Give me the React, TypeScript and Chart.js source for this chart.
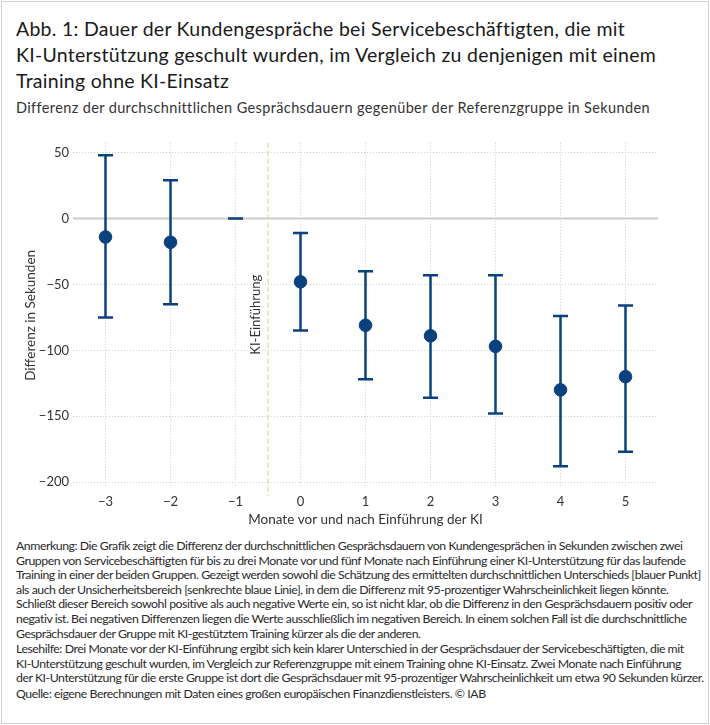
import { useEffect, useLayoutEffect, useRef } from "react"
import { Chart, registerables } from "chart.js"

Chart.register(...registerables)

// months relative to the introduction of the AI training
const months = [-3, -2, -1, 0, 1, 2, 3, 4, 5]
// point estimates (seconds)
const estimates = [-14, -18, 0, -48, -81, -89, -97, -130, -120]
// 95% confidence interval
const lower = [-75, -65, 0, -85, -122, -136, -148, -188, -177]
const upper = [48, 29, 0, -11, -40, -43, -43, -74, -66]
const yTicks = [50, 0, -50, -100, -150, -200]
const introductionAt = -0.5

const titleLines = [
  "Abb. 1: Dauer der Kundengespräche bei Servicebeschäftigten, die mit",
  "KI-Unterstützung geschult wurden, im Vergleich zu denjenigen mit einem",
  "Training ohne KI-Einsatz",
]
const subtitle = "Differenz der durchschnittlichen Gesprächsdauern gegenüber der Referenzgruppe in Sekunden"
const noteLines = [
  "Anmerkung: Die Grafik zeigt die Differenz der durchschnittlichen Gesprächsdauern von Kundengesprächen in Sekunden zwischen zwei",
  "Gruppen von Servicebeschäftigten für bis zu drei Monate vor und fünf Monate nach Einführung einer KI-Unterstützung für das laufende",
  "Training in einer der beiden Gruppen. Gezeigt werden sowohl die Schätzung des ermittelten durchschnittlichen Unterschieds [blauer Punkt]",
  "als auch der Unsicherheitsbereich [senkrechte blaue Linie], in dem die Differenz mit 95-prozentiger Wahrscheinlichkeit liegen könnte.",
  "Schließt dieser Bereich sowohl positive als auch negative Werte ein, so ist nicht klar, ob die Differenz in den Gesprächsdauern positiv oder",
  "negativ ist. Bei negativen Differenzen liegen die Werte ausschließlich im negativen Bereich. In einem solchen Fall ist die durchschnittliche",
  "Gesprächsdauer der Gruppe mit KI-gestütztem Training kürzer als die der anderen.",
]
const readingLines = [
  "Lesehilfe: Drei Monate vor der KI-Einführung ergibt sich kein klarer Unterschied in der Gesprächsdauer der Servicebeschäftigten, die mit",
  "KI-Unterstützung geschult wurden, im Vergleich zur Referenzgruppe mit einem Training ohne KI-Einsatz. Zwei Monate nach Einführung",
  "der KI-Unterstützung für die erste Gruppe ist dort die Gesprächsdauer mit 95-prozentiger Wahrscheinlichkeit um etwa 90 Sekunden kürzer.",
]
const sourceLines = ["Quelle: eigene Berechnungen mit Daten eines großen europäischen Finanzdienstleisters. © IAB"]

const FONT = "Lato, 'Noto Sans', sans-serif"
const BLUE = "#0a417f"

const minus = (v: number) => String(v).replace("-", "\u2212")

const errorBars = {
  id: "errorBars",
  beforeDatasetsDraw(chart: Chart) {
    const { ctx, scales, chartArea } = chart
    const x = scales.x
    const y = scales.y
    ctx.save()
    // zero line
    ctx.strokeStyle = "#cccccc"
    ctx.lineWidth = 2
    ctx.beginPath()
    ctx.moveTo(chartArea.left, y.getPixelForValue(0))
    ctx.lineTo(chartArea.right, y.getPixelForValue(0))
    ctx.stroke()
    // introduction marker
    const px = x.getPixelForValue(introductionAt)
    ctx.strokeStyle = "#d9d66e"
    ctx.lineWidth = 1
    ctx.setLineDash([5, 3])
    ctx.beginPath()
    ctx.moveTo(px, chartArea.top)
    ctx.lineTo(px, chartArea.bottom + 8)
    ctx.stroke()
    ctx.setLineDash([])
    ctx.translate(px - 12, y.getPixelForValue(-73))
    ctx.rotate(-Math.PI / 2)
    ctx.fillStyle = "#333"
    ctx.font = "13px " + FONT
    ctx.textAlign = "center"
    ctx.textBaseline = "middle"
    ctx.fillText("KI-Einführung", 0, 0)
    ctx.restore()
  },
  afterDatasetsDraw(chart: Chart) {
    const { ctx, scales } = chart
    const x = scales.x
    const y = scales.y
    ctx.save()
    ctx.strokeStyle = BLUE
    ctx.lineWidth = 2.5
    months.forEach((m, i) => {
      const px = x.getPixelForValue(m)
      const top = y.getPixelForValue(upper[i])
      const bottom = y.getPixelForValue(lower[i])
      ctx.beginPath()
      ctx.moveTo(px, top)
      ctx.lineTo(px, bottom)
      ctx.moveTo(px - 7.5, top)
      ctx.lineTo(px + 7.5, top)
      ctx.moveTo(px - 7.5, bottom)
      ctx.lineTo(px + 7.5, bottom)
      ctx.stroke()
    })
    ctx.restore()
  },
}

function ErrorChart() {
  const chartRef = useRef<HTMLCanvasElement>(null)
  const chartInstance = useRef<Chart | null>(null)

  useEffect(() => {
    if (!chartRef.current) return
    if (chartInstance.current) chartInstance.current.destroy()
    const ctx = chartRef.current.getContext("2d")
    if (!ctx) return

    const axisFont = { family: FONT, size: 13 }

    chartInstance.current = new Chart(ctx, {
      type: "scatter",
      data: {
        datasets: [
          {
            data: months.map((m, i) => ({ x: m, y: estimates[i] })),
            backgroundColor: BLUE,
            borderColor: BLUE,
            pointRadius: months.map((_, i) => (lower[i] === upper[i] ? 0 : 6.3)),
            pointHoverRadius: 6.3,
          },
        ],
      },
      options: {
        animation: false,
        responsive: false,
        layout: { padding: { left: 21, right: 50, top: 10, bottom: 0 } },
        plugins: { legend: { display: false }, tooltip: { enabled: false } },
        scales: {
          x: {
            type: "linear",
            min: -3.5,
            max: 5.5,
            afterBuildTicks: (s: any) => {
              s.ticks = months.map((m) => ({ value: m }))
            },
            afterFit: (s: any) => {
              s.height = 43
            },
            border: { display: false, dash: [1, 2] },
            grid: { color: "#cfcfcf", drawTicks: false },
            ticks: { padding: 6, color: "#333", font: axisFont, callback: (v: any) => minus(v) },
            title: {
              display: true,
              text: "Monate vor und nach Einführung der KI",
              color: "#333",
              font: { family: FONT, size: 13.5 },
              padding: { top: 0, bottom: 3 },
            },
          },
          y: {
            min: -204.5,
            max: 57.5,
            afterBuildTicks: (s: any) => {
              s.ticks = yTicks.map((v) => ({ value: v }))
            },
            afterFit: (s: any) => {
              s.width = 50
            },
            border: { display: false, dash: [1, 2] },
            grid: { color: "#cfcfcf", drawTicks: false },
            ticks: { padding: 4, color: "#333", font: axisFont, callback: (v: any) => minus(v) },
            title: {
              display: true,
              text: "Differenz in Sekunden",
              color: "#333",
              font: { family: FONT, size: 13.5 },
              padding: { top: 0, bottom: 4 },
            },
          },
        },
      },
      plugins: [errorBars],
    })

    return () => {
      if (chartInstance.current) {
        chartInstance.current.destroy()
        chartInstance.current = null
      }
    }
  }, [])

  return <canvas ref={chartRef} width={706} height={400} style={{ display: "block", width: 706, height: 400 }} />
}

// text with fixed line breaks; letter spacing is tuned so that the widest line gets the given width
function TextLines({ groups, width, gap, style }: { groups: string[][]; width: number; gap: number; style: any }) {
  const boxRef = useRef<HTMLDivElement>(null)

  useLayoutEffect(() => {
    const box = boxRef.current
    if (!box) return
    box.style.letterSpacing = "0px"
    let best = 0
    let chars = 1
    box.querySelectorAll("span").forEach((s) => {
      const w = s.getBoundingClientRect().width
      if (w > best) {
        best = w
        chars = (s.textContent || "").length
      }
    })
    box.style.letterSpacing = ((width - best) / chars).toFixed(3) + "px"
  }, [groups, width])

  return (
    <div ref={boxRef} style={{ whiteSpace: "nowrap", ...style }}>
      {groups.map((g, gi) => (
        <div key={gi} style={{ marginTop: gi ? gap : 0 }}>
          {g.map((l, i) => (
            <div key={i}>
              <span>{l}</span>
            </div>
          ))}
        </div>
      ))}
    </div>
  )
}

export default function App() {
  useEffect(() => {
    document.body.style.margin = "0"
  }, [])

  return (
    <div
      style={{
        margin: 1,
        width: 708,
        height: 723,
        boxSizing: "border-box",
        border: "1px solid #d0d0d0",
        position: "relative",
        fontFamily: FONT,
        color: "#222",
      }}
    >
      <TextLines
        groups={[titleLines]}
        width={640}
        gap={0}
        style={{ position: "absolute", left: 14, top: 14, fontSize: 19.5, lineHeight: "26px", color: "#1a1a1a" }}
      />
      <TextLines
        groups={[[subtitle]]}
        width={633}
        gap={0}
        style={{ position: "absolute", left: 14, top: 97, fontSize: 14.5, lineHeight: "18px", color: "#333" }}
      />
      <div style={{ position: "absolute", left: 0, top: 129 }}>
        <ErrorChart />
      </div>
      <TextLines
        groups={[noteLines, readingLines, sourceLines]}
        width={688}
        gap={1}
        style={{ position: "absolute", left: 14, top: 537, fontSize: 12.3, lineHeight: "14.6px", color: "#2a2a2a" }}
      />
    </div>
  )
}
